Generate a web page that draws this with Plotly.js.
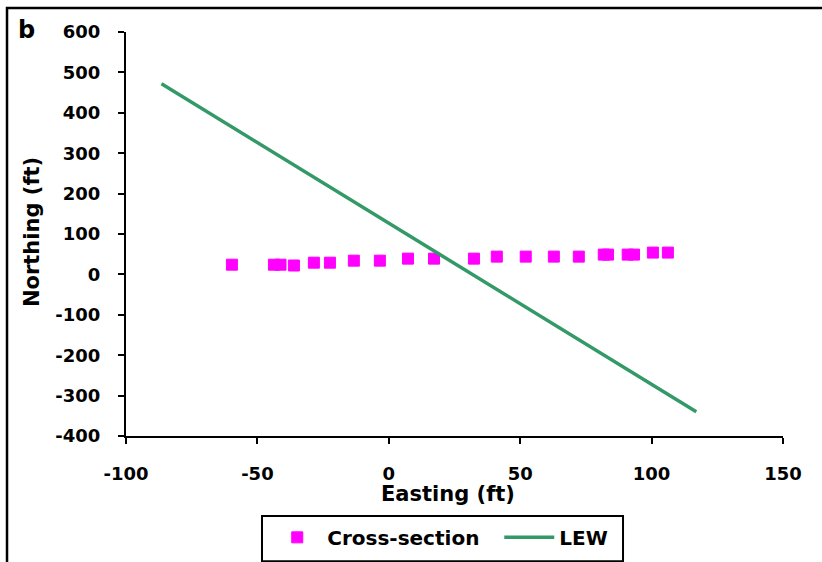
<!DOCTYPE html>
<html>
<head>
<meta charset="utf-8">
<script src="https://cdn.plot.ly/plotly-3.0.1.min.js"></script>
<style>
  html, body { margin: 0; padding: 0; background: #fff; }
  #chart { width: 822px; height: 562px; }
</style>
</head>
<body>
<div id="chart"></div>
<script>
// Cross-section points (Easting, Northing in ft)
const crossEasting = [-59.7, -43.7, -41.2, -36.1, -28.5, -22.4, -13.3, -3.4, 7.3, 17.2, 32.4, 41.1, 52.1, 62.8, 72.3, 81.8, 83.4, 90.9, 93.3, 100.5, 106.2];
const crossNorthing = [24, 24, 24, 22, 29, 29, 34, 34, 39, 39, 39, 44, 44, 44, 44, 49, 49, 49, 49, 54, 54];

// LEW line end points
const lewEasting = [-86.5, 117];
const lewNorthing = [472, -340];

const xTicks = [-100, -50, 0, 50, 100, 150];
const yTicks = [-400, -300, -200, -100, 0, 100, 200, 300, 400, 500, 600];

const FONT = "DejaVu Sans, Arial, sans-serif";

const traces = [
  {
    x: crossEasting, y: crossNorthing,
    type: 'scatter', mode: 'markers', name: 'Cross-section',
    marker: { symbol: 'square', size: 11, color: '#FF00FF', line: { color: '#FF00FF', width: 1 } }
  },
  {
    x: lewEasting, y: lewNorthing,
    type: 'scatter', mode: 'lines', name: 'LEW',
    line: { color: '#339966', width: 3.5 }
  }
];

const layout = {
  width: 822, height: 562,
  margin: { l: 126, r: 39, t: 32, b: 126, autoexpand: false },
  paper_bgcolor: '#ffffff', plot_bgcolor: '#ffffff',
  font: { family: FONT, size: 18, color: '#000' },
  showlegend: true,
  xaxis: {
    range: [-100, 150], tickvals: xTicks, ticktext: xTicks.map(String),
    showline: true, linecolor: '#000', linewidth: 2,
    ticks: 'outside', ticklen: 6, tickwidth: 2, tickcolor: '#000',
    showgrid: false, zeroline: false, automargin: false,
    tickfont: { family: FONT, size: 18, color: '#000', weight: 'bold' },
    ticklabelstandoff: 14
  },
  yaxis: {
    range: [-400, 600], tickvals: yTicks, ticktext: yTicks.map(String),
    showline: true, linecolor: '#000', linewidth: 2,
    ticks: 'outside', ticklen: 6, tickwidth: 2, tickcolor: '#000',
    showgrid: false, zeroline: false, automargin: false,
    tickfont: { family: FONT, size: 18, color: '#000', weight: 'bold' },
    ticklabelstandoff: 14
  },
  legend: {
    orientation: 'h',
    x: 0.215, xanchor: 'left',
    y: -0.2026, yanchor: 'top',
    borderwidth: 0, bgcolor: 'rgba(0,0,0,0)',
    font: { family: FONT, size: 20, color: '#000', weight: 'bold' },
    itemwidth: 50,
    entrywidth: 167, entrywidthmode: 'pixels'
  },
  annotations: [
    { text: 'b', xref: 'paper', yref: 'paper', x: -0.152, y: 1.005, xanchor: 'center', yanchor: 'middle', showarrow: false,
      font: { family: FONT, size: 24, color: '#000', weight: 'bold' } },
    { text: 'Easting (ft)', xref: 'paper', yref: 'paper', x: 0.490, y: -0.1436, xanchor: 'center', yanchor: 'middle', showarrow: false,
      font: { family: FONT, size: 21, color: '#000', weight: 'bold' } },
    { text: 'Northing (ft)', xref: 'paper', yref: 'paper', x: -0.143, y: 0.505, xanchor: 'center', yanchor: 'middle', showarrow: false, textangle: -90,
      font: { family: FONT, size: 21, color: '#000', weight: 'bold' } }
  ],
  shapes: [
    { type: 'path', xref: 'paper', yref: 'paper',
      path: 'M -0.1811,-0.36 L -0.1811,1.0594 L 1.09,1.0594',
      line: { color: '#000', width: 2.5 } },
    { type: 'rect', xref: 'paper', yref: 'paper',
      x0: 0.2070, x1: 0.7565, y0: -0.3099, y1: -0.1980,
      line: { color: '#000', width: 2 }, fillcolor: 'rgba(0,0,0,0)' }
  ]
};

Plotly.newPlot('chart', traces, layout, { displayModeBar: false, staticPlot: true });
</script>
</body>
</html>
